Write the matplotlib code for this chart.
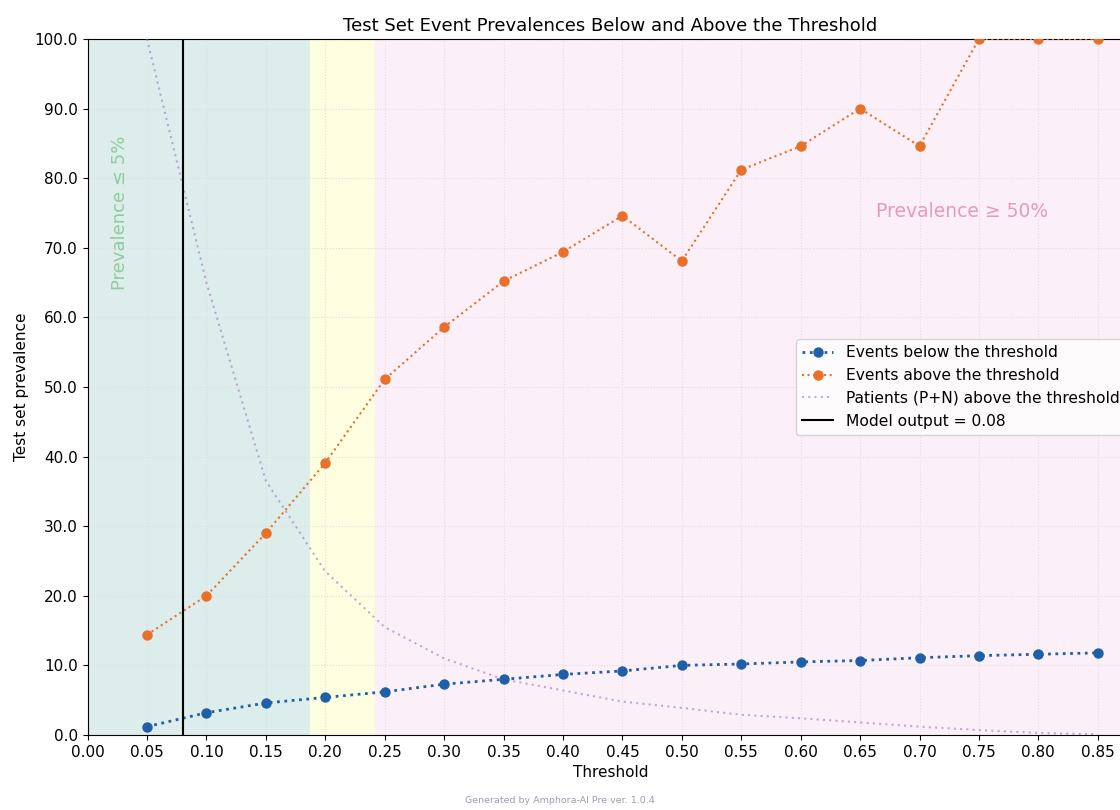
import matplotlib
matplotlib.use("Agg")
import matplotlib.pyplot as plt
import numpy as np

thresholds = [0.05, 0.10, 0.15, 0.20, 0.25, 0.30, 0.35, 0.40, 0.45, 0.50,
              0.55, 0.60, 0.65, 0.70, 0.75, 0.80, 0.85]
events_below = [1.2, 3.2, 4.6, 5.4, 6.2, 7.3, 8.0, 8.7, 9.2, 10.0,
                10.2, 10.5, 10.7, 11.1, 11.4, 11.6, 11.8]
events_above = [14.4, 20.0, 29.0, 39.1, 51.1, 58.6, 65.2, 69.4, 74.6, 68.1,
                81.2, 84.6, 90.0, 84.6, 100.0, 100.0, 100.0]
patients_above = [100.0, 65.0, 36.5, 23.5, 15.5, 11.0, 8.0, 6.4, 4.8, 3.9,
                  2.9, 2.4, 1.8, 1.2, 0.7, 0.3, 0.1]
model_output = 0.08
low_bound = 0.187
high_bound = 0.242

fig = plt.figure(figsize=(11.2, 8.1), dpi=100)
ax = fig.add_axes([0.0782, 0.0926, 1.012 - 0.0782, 0.9519 - 0.0926])

ax.axvspan(0, low_bound, color="#dcedec", zorder=0)
ax.axvspan(low_bound, high_bound, color="#fdfde0", zorder=0)
ax.axvspan(high_bound, 0.88, color="#fcf0f8", zorder=0)
ax.grid(True, color="#e4dce4", linewidth=0.8, linestyle=":", zorder=1)

ax.plot(thresholds, events_below, linestyle=":", color="#1f5fa8", linewidth=2,
        marker="o", markersize=6.5, label="Events below the threshold", zorder=4)
ax.plot(thresholds, events_above, linestyle=":", color="#e8702a", linewidth=1.5,
        marker="o", markersize=6.5, label="Events above the threshold", zorder=4)
ax.plot(thresholds, patients_above, linestyle=(0, (1, 2)), color="#9467bd", alpha=0.55,
        linewidth=1.5, label="Patients (P+N) above the threshold", zorder=3)
ax.axvline(model_output, color="black", linewidth=1.5,
           label="Model output = 0.08", zorder=5)

ax.text(0.027, 75, "Prevalence ≤ 5%", rotation=90, color="#8fcb9c",
        fontsize=13, ha="center", va="center")
ax.text(0.736, 75.2, "Prevalence ≥ 50%", color="#e89ab8",
        fontsize=13.5, ha="center", va="center")

ax.set_xlim(0, 0.88)
ax.set_ylim(0, 100)
ax.set_xticks(np.arange(0, 0.851, 0.05))
ax.set_xticklabels([f"{t:.2f}" for t in np.arange(0, 0.851, 0.05)])
ax.set_yticks(np.arange(0, 100.1, 10))
ax.set_yticklabels([f"{t:.1f}" for t in np.arange(0, 100.1, 10)])
ax.tick_params(labelsize=11)
ax.set_xlabel("Threshold", fontsize=11)
ax.set_ylabel("Test set prevalence", fontsize=11)
ax.set_title("Test Set Event Prevalences Below and Above the Threshold", fontsize=13)
ax.legend(loc="center right", fontsize=11.2)

fig.text(0.5, 0.012, "Generated by Amphora-AI Pre ver. 1.0.4", color="#9aa0b0",
         fontsize=6.8, ha="center", va="center")

fig.savefig("out.png", dpi=100)
